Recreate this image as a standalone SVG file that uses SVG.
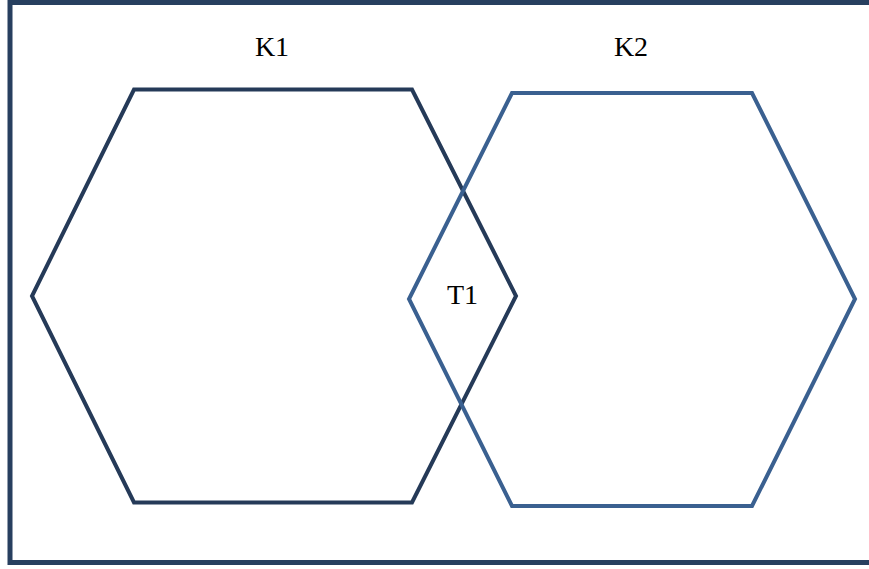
<svg xmlns="http://www.w3.org/2000/svg" width="869" height="569" viewBox="0 0 869 569">
<style>
.frame{fill:none;stroke:#273f5f;stroke-width:5}
.hex{fill:none;stroke-width:4;stroke-linejoin:miter}
.k1{stroke:#253a58}
.k2{stroke:#3a6090}
.lbl{font-family:"Liberation Serif","Times New Roman",serif;font-size:28px;fill:#000;text-anchor:middle}
</style>
<rect class="frame" x="10" y="2.5" width="870" height="560"/>
<g id="connectors"></g>
<g id="K1">
<polygon class="hex k1" points="134,89.5 412,89.5 516,296 412,502.5 134,502.5 32,296"/>
<text class="lbl" x="272" y="56">K1</text>
</g>
<g id="K2">
<polygon class="hex k2" points="512,93 752,93 855,299 752,506 512,506 409,299"/>
<text class="lbl" x="631" y="56">K2</text>
</g>
<g id="T1">
<text class="lbl" x="462.5" y="304">T1</text>
</g>
</svg>
